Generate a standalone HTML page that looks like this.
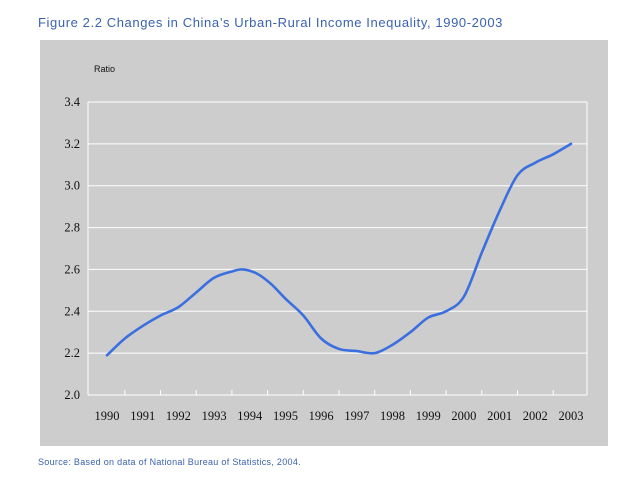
<!DOCTYPE html>
<html><head><meta charset="utf-8"><style>
body{margin:0;background:#fff;width:640px;height:480px;overflow:hidden;font-family:"Liberation Sans",sans-serif}
</style></head><body>
<svg width="640" height="480">
<text x="38" y="27" font-size="13" fill="#3a62b0" letter-spacing="0.6">Figure 2.2  Changes in China’s Urban-Rural Income Inequality, 1990-2003</text>
<rect x="40" y="40" width="568" height="406" fill="#cdcdcd"/>
<text x="94" y="72" font-size="9" fill="#111">Ratio</text>
<g id="g"></g>
<text x="38" y="465" font-size="9" fill="#3a62b0" letter-spacing="0.3">Source: Based on data of National Bureau of Statistics, 2004.</text>
</svg>
<script>
const years=[1990,1991,1992,1993,1994,1995,1996,1997,1998,1999,2000,2001,2002,2003];
const yTicks=[2.0,2.2,2.4,2.6,2.8,3.0,3.2,3.4];
const pointYears=[1990,1990.5,1991,1991.5,1992,1992.5,1993,1993.5,1993.8,1994.2,1994.6,1995,1995.5,1996,1996.5,1997,1997.5,1998,1998.5,1999,1999.5,2000,2000.5,2001,2001.5,2002,2002.5,2003];
const ratios=[2.19,2.27,2.33,2.38,2.42,2.49,2.56,2.59,2.60,2.58,2.53,2.46,2.38,2.27,2.22,2.21,2.20,2.24,2.30,2.37,2.40,2.47,2.68,2.88,3.05,3.11,3.15,3.20];
const ns="http://www.w3.org/2000/svg",g=document.getElementById('g');
const L=88,R=587,T=102,B=395;
const xs=y=>107+(y-1990)*(571-107)/13;
const ys=v=>B-(v-2.0)/1.4*(B-T);
function el(t,a){const e=document.createElementNS(ns,t);for(const k in a)e.setAttribute(k,a[k]);g.appendChild(e);return e;}
yTicks.forEach(v=>{
 const l=el('line',{x1:L,x2:R,y1:ys(v),y2:ys(v),stroke:'#fff','stroke-width':1});
 
 
 const t=el('text',{x:80,y:ys(v)+4,'font-size':12.5,'text-anchor':'end',fill:'#111','font-family':'Liberation Serif'});
 t.textContent=v.toFixed(1);
 
 
});
const fr=el('line',{x1:L,x2:L,y1:T,y2:B,stroke:'#fff'});


const fr2=el('line',{x1:R,x2:R,y1:T,y2:B,stroke:'#fff'});


years.forEach((yr,i)=>{
 const t=el('text',{x:xs(yr),y:420,'font-size':12.5,'text-anchor':'middle',fill:'#111','font-family':'Liberation Serif'});
 t.textContent=yr;
 
 
 if(i<years.length-1){const tk=el('line',{x1:xs(yr+0.5),x2:xs(yr+0.5),y1:B,y2:B-5,stroke:'#fff'});
 
 }
});
const P=pointYears.map((y,i)=>[xs(y),ys(ratios[i])]);
let d='M'+P[0][0]+','+P[0][1];
for(let i=0;i<P.length-1;i++){const p0=P[Math.max(0,i-1)],p1=P[i],p2=P[i+1],p3=P[Math.min(P.length-1,i+2)];
 d+=` C${p1[0]+(p2[0]-p0[0])/6},${p1[1]+(p2[1]-p0[1])/6} ${p2[0]-(p3[0]-p1[0])/6},${p2[1]-(p3[1]-p1[1])/6} ${p2[0]},${p2[1]}`;}
const line=el('path',{d:d,fill:'none',stroke:'#3b6fe0','stroke-width':2.6,'stroke-linejoin':'round','stroke-linecap':'round'});


</script>
</body></html>
